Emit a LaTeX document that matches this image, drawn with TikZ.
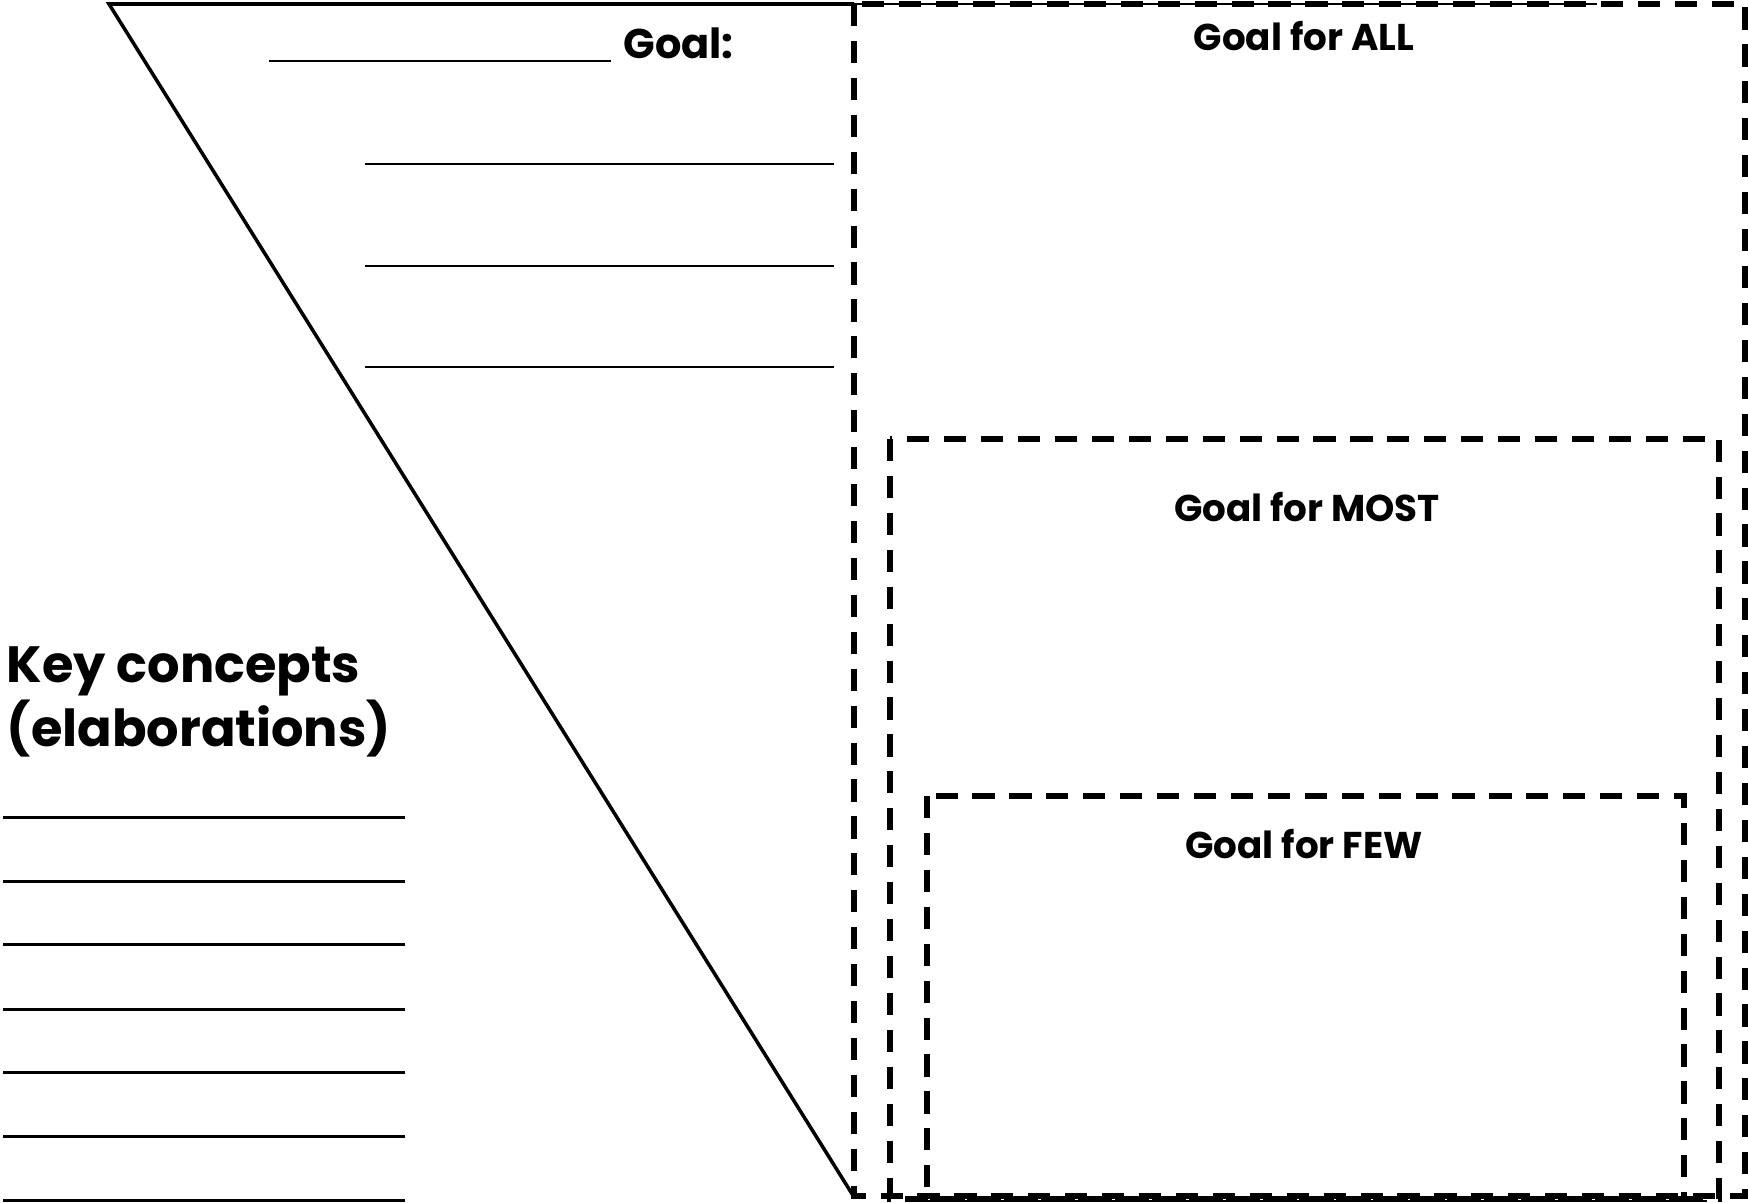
\documentclass[tikz,border=0pt]{standalone}
\usepackage{fontspec}
\setmainfont{Poppins}
\usetikzlibrary{positioning}
\tikzset{
	goalbox/.style={draw, line width=1.7pt, dash pattern=on 6.3pt off 4.2pt},
	blank/.style={line width=0.85pt},
	thinblank/.style={line width=0.6pt},
	goaltext/.style={font=\bfseries\fontsize{10.6}{13}\selectfont},
	keytext/.style={font=\bfseries\fontsize{14.5}{18.2}\selectfont, align=left, inner sep=0pt}
}
\begin{document}
\begin{tikzpicture}[x=0.01cm,y=-0.01cm]
		\useasboundingbox (0,0) rectangle (1748,1203);
		\coordinate (tl) at (109,4);
		\coordinate (tr) at (854,4);
		\coordinate (bt) at (854,1197);
		\draw[line width=1pt] (tr) -- (tl) -- (bt);
		\draw[line width=0.4pt] (tr) -- (1597,4);
		\draw[line width=0.4pt] (925,1201) -- (1707,1201);
		\draw[goalbox] (854,4) rectangle (1745,1196);
		\draw[goalbox] (890,439) rectangle (1719,1199);
		\draw[goalbox] (927,796) rectangle (1684,1199);
		\draw (1304,36) node [goaltext] (all) {Goal for ALL};
		\draw (1307,507) node [goaltext] (most) {Goal for MOST};
		\draw (1304,844) node [goaltext] (few) {Goal for FEW};
		\draw (611,43) node [goaltext, font=\bfseries\fontsize{11.8}{13}\selectfont, anchor=west] (goal) {Goal:};
		\draw (6,702) node [keytext, anchor=west] (key) {Key concepts\\(elaborations)};
		\draw[thinblank] (269,61) -- (611,61);
		\foreach \y in {164,266,367}
			\draw[thinblank] (365,\y) -- (834,\y);
		\foreach \y in {817,881,944,1009,1072,1136,1200}
			\draw[blank] (3,\y) -- (405,\y);
	\end{tikzpicture}
\end{document}
